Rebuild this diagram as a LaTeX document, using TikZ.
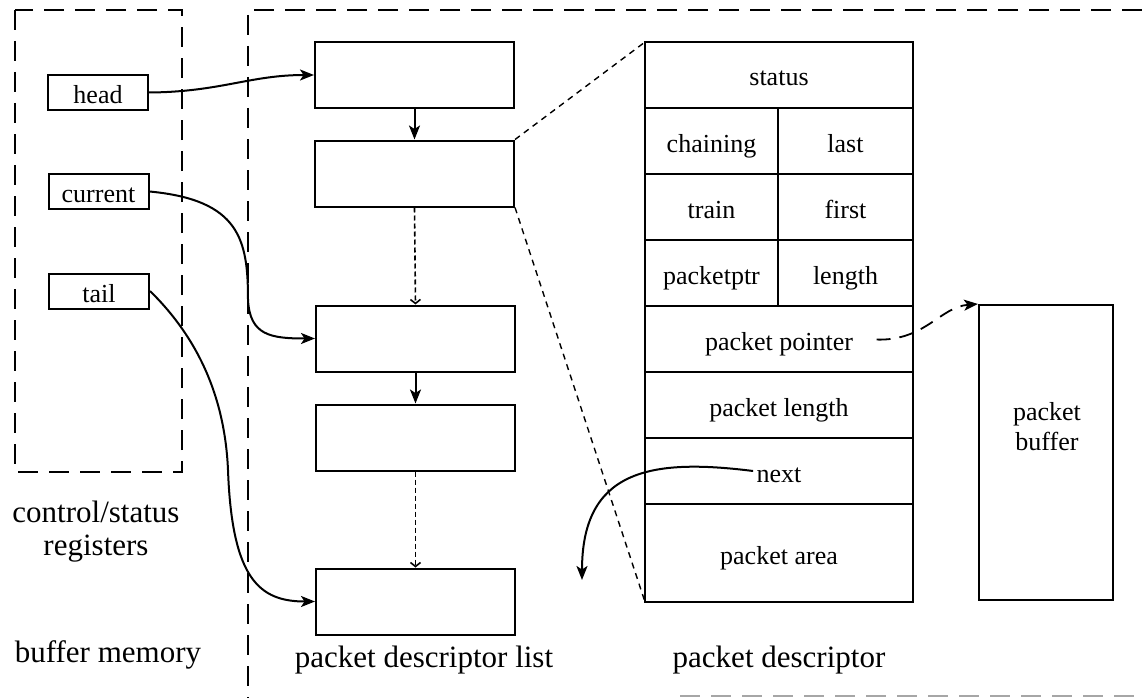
\documentclass[tikz,border=0pt]{standalone}
\usepackage{fontspec}
\setmainfont{Liberation Serif}
\usetikzlibrary{arrows.meta}
\begin{document}
\begin{tikzpicture}[x=1pt,y=-1pt,
  every node/.style={font=\fontsize{26}{30}\selectfont},
  txt/.style={text height=24pt, text depth=2pt},
  reg/.style={draw, txt, line width=2pt, minimum width=100pt, minimum height=35pt, inner sep=0pt},
  desc/.style={draw, line width=2pt, minimum width=199pt, minimum height=66pt, inner sep=0pt},
  cell/.style={draw, txt, line width=2pt, minimum height=66pt, inner sep=0pt, outer sep=0pt},
  region/.style={line width=1.4pt, dash pattern=on 20pt off 11pt},
  caption/.style={font=\fontsize{31}{33}\selectfont, align=center},
  link/.style={line width=2pt, -{Stealth[length=14pt,width=11pt,inset=3.5pt]}},
  weak/.style={line width=1.6pt, dash pattern=on 5pt off 3pt, -{Straight Barb[length=4pt,width=10pt]}},
  zoomline/.style={line width=1.4pt, dash pattern=on 6pt off 5pt},
  ptrline/.style={line width=1.8pt, dash pattern=on 14pt off 9pt, -{Stealth[length=14pt,width=11pt,inset=3.5pt]}},
]
\useasboundingbox (0,0) rectangle (1142,698);

% regions: control/status registers and buffer memory
\draw[region] (15,10) rectangle (182,472);
\draw[region] (1142,10) -- (248,10) -- (248,698);
\draw[region, gray!70] (680,696) -- (1142,696);

% registers
\node[reg] (head) at (98,92.5) {head};
\node[reg] (current) at (98.5,191.5) {current};
\node[reg] (tail) at (99,291) {tail};

% packet descriptor list
\node[desc] (d1) at (414.5,75) {};
\node[desc] (d2) at (414.5,173.5) {};
\node[desc] (d3) at (415.5,338.5) {};
\node[desc] (d4) at (415.5,437.5) {};
\node[desc] (d5) at (415.5,601.5) {};

\draw[link] (d1.south) -- (d2.north);
\draw[weak] (d2.south) -- (d3.north);
\draw[link] (d3.south) -- (d4.north);
\draw[weak] (d4.south) -- (d5.north);

% register pointers
\draw[link] (head.east) .. controls (220,92) and (250,75) .. (d1.west);
\draw[link] (current.east) .. controls (240,200) and (248,240) .. (248,300)
  .. controls (250,335) and (270,338.5) .. (d3.west);
\draw[link] (tail.east) .. controls (200,340) and (225,400) .. (228,470)
  .. controls (232,580) and (260,601.5) .. (d5.west);

% packet descriptor layout
\node[cell, minimum width=268pt] (r1) at (779,75) {status};
\node[cell, minimum width=133pt] (r2a) at (711.5,141) {chaining};
\node[cell, minimum width=135pt] (r2b) at (845.5,141) {last};
\node[cell, minimum width=133pt] (r3a) at (711.5,207) {train};
\node[cell, minimum width=135pt] (r3b) at (845.5,207) {first};
\node[cell, minimum width=133pt] (r4a) at (711.5,273) {packetptr};
\node[cell, minimum width=135pt] (r4b) at (845.5,273) {length};
\node[cell, minimum width=268pt] (r5) at (779,339) {};
\node[txt] (pptxt) at (r5.center) {packet pointer};
\node[cell, minimum width=268pt] (r6) at (779,405) {packet length};
\node[cell, minimum width=268pt] (r7) at (779,471) {};
\node[txt] (nexttxt) at (r7.center) {next};
\node[cell, minimum width=268pt, minimum height=98pt] (r8) at (779,553) {packet area};

% expansion of the second descriptor
\draw[zoomline] (d2.north east) -- (r1.north west);
\draw[zoomline] (d2.south east) -- (r8.south west);

% packet buffer
\node[draw, line width=2pt, minimum width=134pt, minimum height=295pt] (buf) at (1046,452.5) {};
\node[align=center] (buftxt) at (1047,427) {packet\\buffer};

\draw[ptrline, shorten <=20pt] (pptxt.east) .. controls (925,341) and (940,307) .. (buf.north west);

\coordinate (nextend) at (582,580);
\draw[link] (nexttxt.west) .. controls (650,458) and (582,470) .. (nextend);

% captions
\node[caption] (regcap) at (96,532) {control/status\\registers};
\node[caption] (bufmem) at (108,655) {buffer memory};
\node[caption] (listcap) at (424,660) {packet descriptor list};
\node[caption] (desccap) at (779,660) {packet descriptor};
\end{tikzpicture}
\end{document}
